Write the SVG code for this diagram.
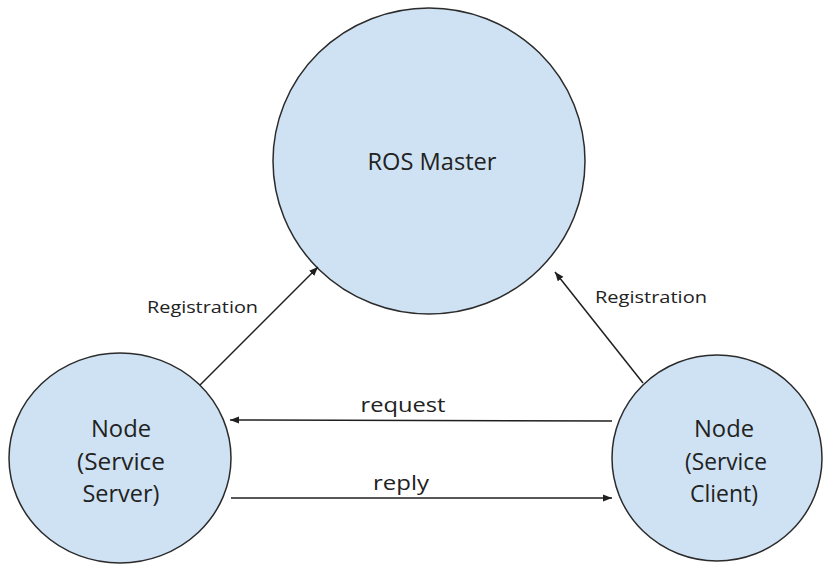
<svg xmlns="http://www.w3.org/2000/svg" width="825" height="565" viewBox="0 0 825 565">
<defs>
<style>
.node ellipse{fill:#cfe2f3;stroke:#2b2b2b;stroke-width:1.5}
text{font-family:"Open Sans","Noto Sans",sans-serif;fill:#222222}
.big{font-size:23px;text-anchor:middle}
.mid{font-size:20px;text-anchor:middle}
.lbl{font-size:16.5px}
.conn line{stroke:#1f1f1f;stroke-width:1.5;fill:none}
</style>
<marker id="ah" viewBox="0 0 10 10" refX="10" refY="5" markerWidth="6" markerHeight="6" markerUnits="strokeWidth" orient="auto">
<path d="M0,1 L10,5 L0,9 z" fill="#1f1f1f"/>
</marker>
</defs>
<rect width="825" height="565" fill="#ffffff"/>
<g id="ros-master" class="node">
<ellipse cx="429" cy="161" rx="156" ry="153"/>
<text class="big" x="432" y="170" textLength="129" lengthAdjust="spacingAndGlyphs">ROS Master</text>
</g>
<g id="service-server" class="node">
<ellipse cx="120" cy="458" rx="111" ry="105"/>
<text class="big" x="121" y="437" textLength="60" lengthAdjust="spacingAndGlyphs">Node</text>
<text class="big" x="121" y="470" textLength="88" lengthAdjust="spacingAndGlyphs">(Service</text>
<text class="big" x="121" y="502" textLength="77" lengthAdjust="spacingAndGlyphs">Server)</text>
</g>
<g id="service-client" class="node">
<ellipse cx="717" cy="458" rx="105" ry="103"/>
<text class="big" x="724" y="437" textLength="60" lengthAdjust="spacingAndGlyphs">Node</text>
<text class="big" x="726" y="470" textLength="82" lengthAdjust="spacingAndGlyphs">(Service</text>
<text class="big" x="724" y="502" textLength="68" lengthAdjust="spacingAndGlyphs">Client)</text>
</g>
<g id="connectors" class="conn">
<line x1="200" y1="385" x2="318" y2="267" marker-end="url(#ah)"/>
<line x1="643" y1="383" x2="555" y2="272" marker-end="url(#ah)"/>
<line x1="612" y1="421" x2="230" y2="420" marker-end="url(#ah)"/>
<line x1="231" y1="498" x2="612" y2="498" marker-end="url(#ah)"/>
<text class="lbl" x="147" y="313" textLength="111" lengthAdjust="spacingAndGlyphs">Registration</text>
<text class="lbl" x="595" y="303" textLength="112" lengthAdjust="spacingAndGlyphs">Registration</text>
<text class="mid" x="403" y="412" textLength="85" lengthAdjust="spacingAndGlyphs">request</text>
<text class="mid" x="401" y="490" textLength="56" lengthAdjust="spacingAndGlyphs">reply</text>
</g>
</svg>
